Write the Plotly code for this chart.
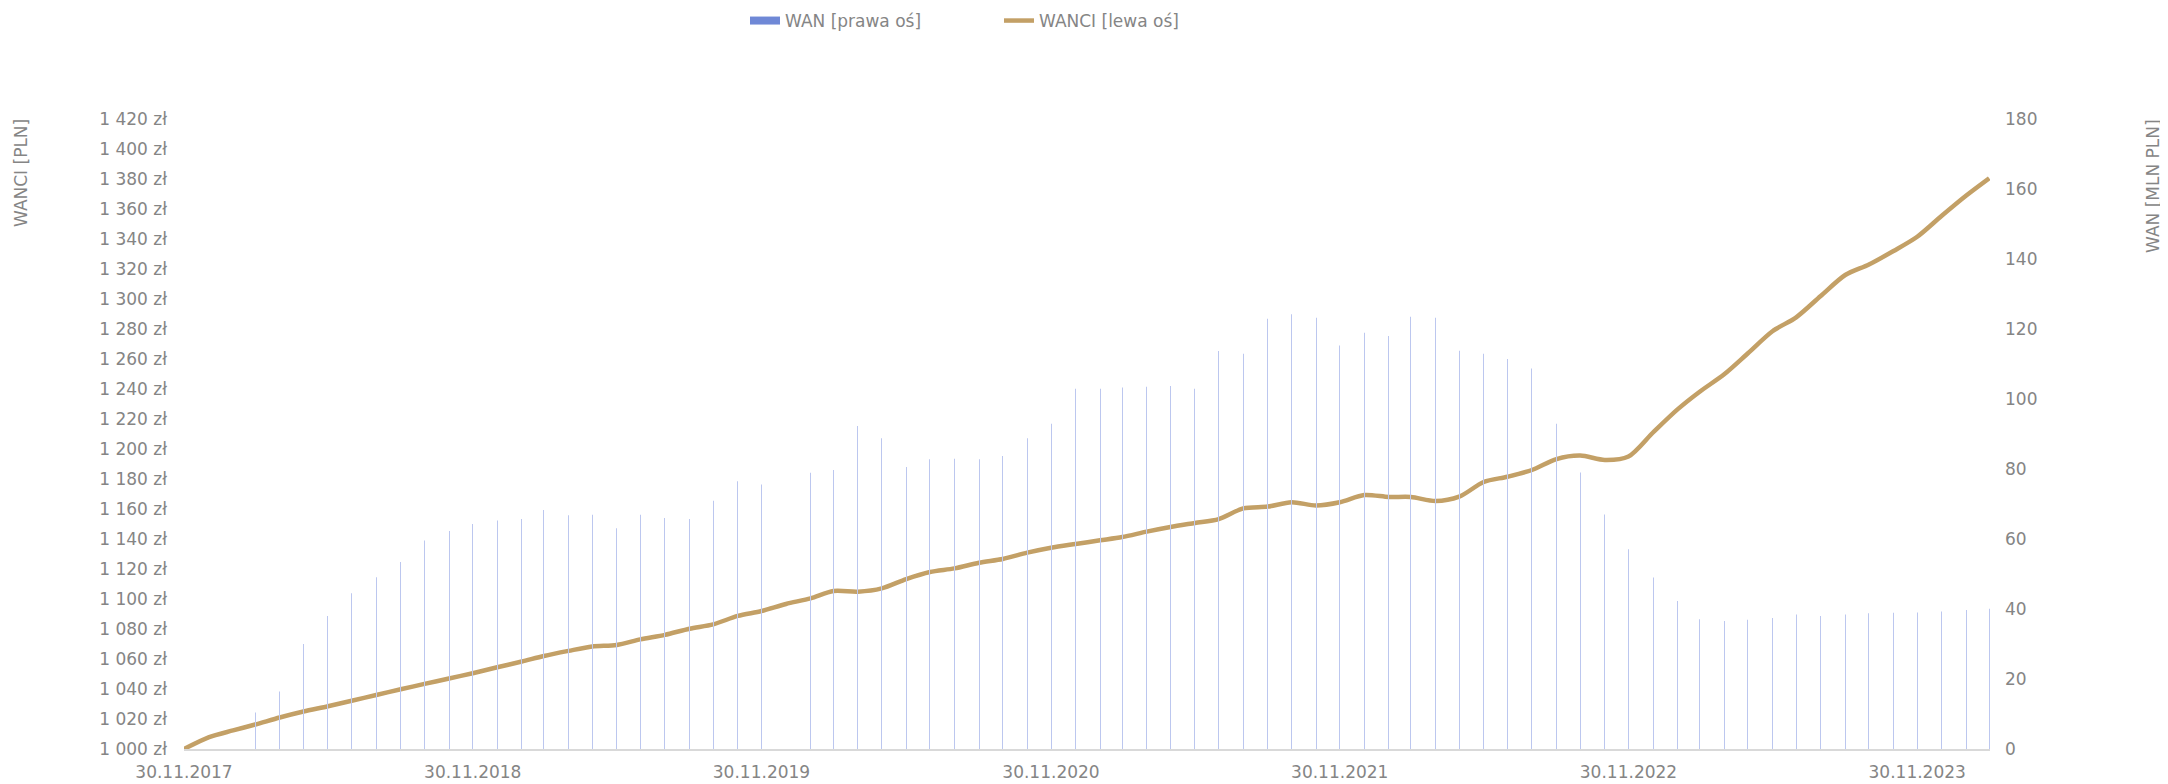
import pandas as pd
import plotly.graph_objects as go

# ---- data (month-end dates, 30.11.2017 .. 29.02.2024) ----
start_date = "2017-11-30"
n_months = 76
dates = pd.date_range(start_date, periods=n_months, freq=pd.offsets.MonthEnd())

wan_mln = [
    None, None, None,
    10.4, 16.4, 30.0, 38.0, 44.5, 49.1, 53.4, 59.6, 62.3, 64.3, 65.3,
    65.7, 68.3, 66.8, 66.9, 63.1, 66.9, 66.0, 65.7, 70.9, 76.5, 75.6, 77.7,
    78.9, 79.7, 92.3, 88.8, 80.6, 82.8, 82.9, 82.8, 83.7, 88.8, 92.9, 102.9,
    102.9, 103.3, 103.5, 103.7, 102.9, 113.7, 112.9, 122.9, 124.2, 123.2, 115.3, 118.9,
    118.0, 123.5, 123.2, 113.8, 112.9, 111.4, 108.7, 92.9, 79.0, 67.0, 57.1, 49.0,
    42.3, 37.1, 36.6, 36.9, 37.4, 38.4, 38.0, 38.4, 38.8, 38.9, 39.0, 39.3,
    39.7, 40.1,
]

wanci_pln = [
    1000.0, 1007.8,
    1012.4, 1016.3, 1021.0, 1025.0, 1028.5, 1032.2, 1036.0, 1039.8, 1043.4, 1047.0, 1050.5, 1054.5,
    1058.3, 1062.0, 1065.4, 1068.4, 1069.4, 1073.1, 1076.1, 1080.2, 1083.1, 1088.7, 1092.0, 1096.7,
    1100.4, 1105.3, 1104.9, 1107.1, 1113.3, 1118.0, 1120.4, 1124.2, 1126.7, 1130.9, 1134.2, 1136.7,
    1139.1, 1141.3, 1144.9, 1148.0, 1150.7, 1153.3, 1160.4, 1161.6, 1164.5, 1162.4, 1164.5, 1169.3,
    1168.0, 1168.0, 1165.3, 1168.2, 1178.0, 1181.5, 1186.0, 1193.3, 1195.6, 1192.7, 1195.0, 1211.0,
    1226.4, 1238.2, 1249.8, 1263.8, 1278.5, 1287.8, 1302.0, 1316.0, 1323.0, 1332.0, 1341.5, 1355.5,
    1369.0, 1380.5,
]

x_tick_dates = ["2017-11-30", "2018-11-30", "2019-11-30", "2020-11-30",
                "2021-11-30", "2022-11-30", "2023-11-30"]
x_tick_labels = ["30.11.2017", "30.11.2018", "30.11.2019", "30.11.2020",
                 "30.11.2021", "30.11.2022", "30.11.2023"]

left_ticks = list(range(1000, 1421, 20))
left_tick_labels = [f"{v:,}".replace(",", " ") + " zł" for v in left_ticks]
right_ticks = list(range(0, 181, 20))

# ---- styling ----
FONT = "DejaVu Sans"
FS = 17
TXT = "#858585"
BAR_LEGEND = "#6f88d6"
BAR_THIN = "#bcc7ef"
GOLD = "#c3a066"

tf = dict(family=FONT, size=FS, color=TXT)

# page body has an 8px default margin -> figure drawn in page coords minus offset
OFF = 8
W, H = 2168 - OFF, 784 - OFF
# desired plot area in page pixels
PL, PR, PT, PB = 184, 1990, 119, 749
L, T = PL - OFF, PT - OFF
R = W - (PR - OFF)
B = H - (PB - OFF)
plot_w = W - L - R
plot_h = H - T - B


def px_x(page_x):
    return (page_x - PL) / plot_w


def px_y(page_y):
    return (PB - page_y) / plot_h


fig = go.Figure()

# legend-only entry for bars (wide strong swatch)
fig.add_trace(go.Scatter(x=[None], y=[None], mode="lines", name="WAN [prawa oś]",
                         line=dict(color=BAR_LEGEND, width=8), yaxis="y2",
                         hoverinfo="skip"))
# thin bars
fig.add_trace(go.Bar(x=dates, y=wan_mln, name="WAN [prawa oś]", showlegend=False,
                     marker=dict(color=BAR_THIN, line=dict(width=0)),
                     width=0.002 * 86400000, yaxis="y2", hoverinfo="x+y"))
# line
fig.add_trace(go.Scatter(x=dates, y=wanci_pln, name="WANCI [lewa oś]", mode="lines",
                         line=dict(color=GOLD, width=4.5, shape="spline", smoothing=0.8),
                         yaxis="y"))

fig.update_layout(
    width=W, height=H,
    margin=dict(l=L, r=R, t=T, b=B, pad=0, autoexpand=False),
    paper_bgcolor="white", plot_bgcolor="white",
    barmode="overlay",
    font=tf,
    showlegend=True,
    legend=dict(orientation="h", x=px_x(745), xanchor="left",
                y=px_y(21), yanchor="middle",
                font=tf, traceorder="normal", entrywidth=209, entrywidthmode="pixels",
                bgcolor="rgba(0,0,0,0)"),
    xaxis=dict(type="date", range=["2017-11-30", "2024-03-01"],
               tickvals=x_tick_dates, ticktext=x_tick_labels,
               showgrid=False, zeroline=False, ticks="", automargin=False,
               showline=True, linecolor="#d9d9d9", linewidth=2,
               ticklabelstandoff=7, tickfont=tf),
    yaxis=dict(range=[1000, 1420], tickvals=left_ticks, ticktext=left_tick_labels,
               showgrid=False, zeroline=False, ticks="", showline=False, automargin=False,
               ticklabelstandoff=16, tickfont=tf),
    yaxis2=dict(range=[0, 180], tickvals=right_ticks, overlaying="y", side="right",
                showgrid=False, zeroline=False, ticks="", showline=False, automargin=False,
                ticklabelstandoff=14, tickfont=tf),
)

fig.add_annotation(text="WANCI [PLN]", textangle=-90, xref="paper", yref="paper",
                   x=px_x(21), y=px_y(117), xanchor="center", yanchor="top",
                   showarrow=False, font=tf)
fig.add_annotation(text="WAN [MLN PLN]", textangle=-90, xref="paper", yref="paper",
                   x=px_x(2153), y=px_y(117), xanchor="center", yanchor="top",
                   showarrow=False, font=tf)

fig.write_html("out.html")
